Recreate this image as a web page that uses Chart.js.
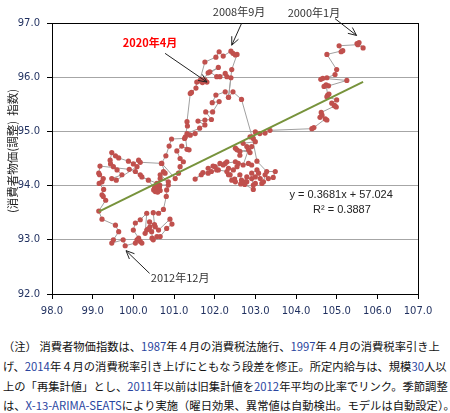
<!DOCTYPE html>
<html>
<head>
<meta charset="utf-8">
<script src="https://cdn.jsdelivr.net/npm/chart.js@4.4.1/dist/chart.umd.min.js"></script>
<style>
html, body { margin: 0; padding: 0; background: #fff; }
#wrap { position: relative; width: 450px; height: 413px; overflow: hidden; }
#chartBox { position: absolute; left: 0; top: 0; width: 450px; height: 320px; }
#note { position: absolute; left: 3px; top: 337px; font-family: "Noto Sans CJK JP"; font-size: 11.3px;
        line-height: 19.8px; color: #111; white-space: nowrap; }
#note .n { color: #2a45a0; }
</style>
</head>
<body>
<div id="wrap">
  <div id="chartBox"><canvas id="cpiWage"></canvas></div>
  <div id="note">
    （注） 消費者物価指数は、<span class="n">1987</span>年４月の消費税法施行、<span class="n">1997</span>年４月の消費税率引き上<br>
    げ、<span class="n">2014</span>年４月の消費税率引き上げにともなう段差を修正。所定内給与は、規模<span class="n">30</span>人以<br>
    上の「再集計値」とし、<span class="n">2011</span>年以前は旧集計値を<span class="n">2012</span>年平均の比率でリンク。季節調整<br>
    は、<span class="n">X-13-ARIMA-SEATS</span>により実施（曜日効果、異常値は自動検出。モデルは自動設定）。
  </div>
</div>
<script>
// --- DATA (2000年1月 -> 2020年4月, monthly) ---
// 所定内給与 指数 (x)
const wage = [
  // 2000-2002
  105.50,105.55,105.65,105.52,105.06,105.11,105.15,104.76,105.00,104.96,104.76,104.61,
  104.66,105.25,104.80,104.69,104.74,104.78,104.81,104.76,105.00,104.88,104.94,104.99,
  104.96,104.62,104.59,104.64,104.76,104.72,104.44,104.39,103.36,103.24,103.11,103.00,
  // 2003-2007
  102.95,102.87,103.00,102.70,102.79,102.91,102.87,102.55,102.62,102.51,102.62,102.83,
  102.70,102.83,102.91,102.58,102.55,102.51,102.26,102.30,102.13,102.21,102.01,101.96,
  101.84,101.92,101.71,101.52,101.67,101.84,102.05,102.09,102.30,102.34,102.46,102.34,
  102.38,102.42,102.51,102.49,102.62,102.66,102.64,102.75,102.79,102.79,102.74,102.95,
  103.00,102.95,102.91,103.00,102.91,103.04,103.08,103.12,103.16,103.20,103.24,103.32,
  103.44,103.49,103.28,103.04,102.92,
  // 2008
  102.66,102.45,102.34,102.42,102.55,102.51,102.45,102.40,102.21,102.11,102.03,
  // 2009-2012
  101.76,101.63,101.56,101.54,101.43,101.40,101.32,101.33,101.26,100.94,100.88,100.80,
  100.69,100.17,100.13,100.00,99.88,99.64,99.56,99.47,99.43,99.44,99.51,99.60,
  99.72,99.47,99.58,100.09,100.05,100.17,99.90,99.18,99.15,99.17,99.26,99.23,
  99.16,99.27,99.23,99.26,99.32,99.15,99.23,99.56,99.64,99.51,99.47,99.75,99.80,
  // 2013-2014
  100.05,100.09,100.13,100.17,100.21,100.00,100.05,100.17,100.33,100.29,100.33,100.41,
  100.49,100.46,100.58,100.66,100.82,100.95,100.90,100.62,100.54,100.45,100.37,100.40,
  100.52,100.49,100.62,100.74,
  // 2015-2016
  100.81,100.82,100.86,100.65,100.59,100.52,100.57,100.62,100.55,100.60,100.64,100.50,
  100.66,100.58,100.62,100.54,100.53,100.58,100.37,100.21,100.58,100.66,100.86,100.66,
  // 2017-2018
  100.74,100.78,100.70,101.03,101.11,101.15,101.23,101.15,101.07,101.19,101.37,101.32,
  101.28,101.40,101.52,101.32,101.63,101.76,101.59,101.76,101.92,101.78,101.95,102.11,
  // 2019-2020/4
  101.94,102.03,102.26,102.34,102.40,102.30,102.26,102.13,102.05,101.88,101.84,102.09,
  101.66,101.76,101.70,101.81
];
// 消費者物価(調整) 指数 (y)
const cpi = [
  // 2000-2002
  96.62,96.64,96.54,96.60,96.58,96.47,96.49,96.42,96.14,96.05,95.99,95.96,
  95.98,95.94,95.84,95.83,95.86,95.67,95.69,95.64,95.58,95.52,95.48,95.45,
  95.47,95.35,95.26,95.30,95.21,95.23,95.07,95.05,95.02,94.97,94.96,94.99,
  // 2003-2007
  94.87,94.90,94.81,94.78,94.72,94.72,94.61,94.66,94.56,94.69,94.63,94.66,
  94.38,94.41,94.38,94.41,94.35,94.44,94.41,94.44,94.41,94.38,94.35,94.36,
  94.32,94.26,94.24,94.12,94.20,94.23,94.29,94.29,94.26,94.32,94.29,94.20,
  94.20,94.10,94.07,94.12,94.20,94.10,94.03,94.07,94.16,94.07,94.02,93.93,
  94.04,94.01,94.13,94.16,94.23,94.29,94.23,94.13,94.04,94.07,94.20,94.13,
  94.15,94.26,94.26,94.45,94.90,
  // 2008
  95.59,95.73,95.63,96.14,96.42,96.41,96.44,96.48,96.39,96.47,96.37,
  // 2009-2012
  96.28,95.93,95.91,95.80,95.72,95.70,95.18,95.10,94.87,94.86,94.73,94.55,
  94.41,94.43,94.47,94.40,94.45,94.51,94.55,94.61,94.47,94.40,94.35,94.29,
  94.20,94.13,94.10,94.35,94.26,94.20,94.30,94.36,94.23,94.20,94.13,94.07,
  94.04,93.93,93.83,93.80,93.73,93.53,93.38,93.27,93.15,93.00,92.94,93.00,92.89,
  // 2013-2014
  92.94,93.00,93.03,92.97,92.94,93.18,93.31,93.37,93.49,93.12,93.18,93.24,
  93.00,93.03,93.06,93.06,93.21,93.29,93.38,93.18,93.24,93.15,93.20,93.33,
  93.28,93.50,93.49,93.56,
  // 2015-2016
  93.80,93.92,94.01,94.01,93.95,93.95,93.90,93.93,93.99,93.88,93.97,93.92,
  93.91,94.00,93.96,93.89,93.97,93.89,94.10,94.16,94.04,94.13,94.07,94.20,
  // 2017-2018
  94.26,94.23,94.41,94.13,94.23,94.35,94.44,94.50,94.64,94.73,94.66,94.67,
  94.90,94.93,94.96,94.96,95.06,95.12,95.19,95.21,95.22,95.36,95.36,95.55,
  // 2019-2020/4
  95.53,95.67,95.73,95.63,95.99,96.01,96.07,96.01,96.01,96.10,96.08,96.18,
  95.96,95.95,95.90,95.91
];
const xTicks = [98, 99, 100, 101, 102, 103, 104, 105, 106, 107];
const yTicks = [92, 93, 94, 95, 96, 97];
// 近似直線 y = a x + b (Excel 表示値)
const trendCoef = [0.3681, 57.024];
const trendLabel = ['y = 0.3681x + 57.024', 'R² = 0.3887'];

// 吹き出し: label, 矢印の先 [x,y], 文字の位置 [x,y], 矢印の始点 [x,y] (all in data units)
const callouts = [
  { text: '2000年1月', tip: [105.49, 96.77], at: [104.44, 97.18], from: [104.96, 97.08] },
  { text: '2008年9月', tip: [102.42, 96.59], at: [102.60, 97.20], from: [102.66, 96.99] },
  { text: '2020年4月', tip: [101.81, 95.91], at: [100.41, 96.64], from: [100.78, 96.44], red: true },
  { text: '2012年12月', tip: [99.82, 92.80], at: [101.15, 92.30], from: [100.40, 92.38] }
];

const points = wage.map((w, i) => ({ x: w, y: cpi[i] }));
const xMin = Math.min(...wage), xMax = Math.max(...wage);
const trendPts = [xMin, xMax].map(v => ({ x: v, y: trendCoef[0] * v + trendCoef[1] }));

function arrow(ctx, x1, y1, x2, y2) {
  const ang = Math.atan2(y2 - y1, x2 - x1), L = 9, A = 0.42;
  ctx.beginPath();
  ctx.moveTo(x1, y1); ctx.lineTo(x2, y2);
  ctx.moveTo(x2 - L * Math.cos(ang - A), y2 - L * Math.sin(ang - A));
  ctx.lineTo(x2, y2);
  ctx.lineTo(x2 - L * Math.cos(ang + A), y2 - L * Math.sin(ang + A));
  ctx.stroke();
}

const extras = {
  id: 'extras',
  afterDraw(chart) {
    const ctx = chart.ctx, a = chart.chartArea;
    const sx = chart.scales.x, sy = chart.scales.y;
    ctx.save();
    // frame
    ctx.strokeStyle = '#000'; ctx.lineWidth = 1;
    ctx.strokeRect(Math.round(a.left) + 0.5, Math.round(a.top) + 0.5,
                   Math.round(a.right - a.left), Math.round(a.bottom - a.top));

    // axis titles
    ctx.fillStyle = '#222';
    ctx.font = '11px "Noto Sans CJK JP"';
    ctx.textBaseline = 'middle';
    ctx.textAlign = 'right';
    ctx.fillText('（所定内給与　指数）', 436, 333);
    ctx.save();
    ctx.translate(13, 151);
    ctx.rotate(-Math.PI / 2);
    ctx.textAlign = 'center';
    ctx.font = '11.5px "Noto Sans CJK JP"';
    ctx.fillText('(消費者物価(調整)  指数)', 0, 0);
    ctx.restore();

    // trend equation
    ctx.textAlign = 'center';
    ctx.fillStyle = '#222';
    ctx.font = '11px "Liberation Sans"';
    ctx.fillText(trendLabel[0], sx.getPixelForValue(105.11), sy.getPixelForValue(93.82));
    ctx.fillText(trendLabel[1], sx.getPixelForValue(105.13), sy.getPixelForValue(93.55));

    // callouts
    ctx.strokeStyle = '#222'; ctx.lineWidth = 1;
    callouts.forEach(c => {
      arrow(ctx, sx.getPixelForValue(c.from[0]), sy.getPixelForValue(c.from[1]),
                 sx.getPixelForValue(c.tip[0]), sy.getPixelForValue(c.tip[1]));
      ctx.fillStyle = c.red ? '#ff0000' : '#333';
      ctx.font = (c.red ? 'bold ' : '') + '11px "Noto Sans CJK JP"';
      ctx.fillText(c.text, sx.getPixelForValue(c.at[0]), sy.getPixelForValue(c.at[1]));
    });
    ctx.restore();
  }
};

const tickFont = { family: '"DejaVu Sans"', size: 10 };

new Chart(document.getElementById('cpiWage').getContext('2d'), {
  type: 'scatter',
  data: {
    datasets: [{
      data: trendPts, showLine: true, borderColor: '#77933C', borderWidth: 2,
      pointRadius: 0, order: 0
    }, {
      data: points, showLine: true, borderColor: '#A0A0A0', borderWidth: 1,
      pointRadius: 2.6, pointHoverRadius: 2.6, pointBackgroundColor: '#C0504D',
      pointBorderWidth: 0, order: 1
    }]
  },
  options: {
    animation: false, responsive: true, maintainAspectRatio: false,
    layout: { padding: { top: 23, right: 32, left: 0, bottom: 0 } },
    plugins: { legend: { display: false }, tooltip: { enabled: false } },
    scales: {
      x: {
        type: 'linear', min: 98, max: 107,
        afterBuildTicks: s => { s.ticks = xTicks.map(v => ({ value: v })); },
        afterFit: s => { s.height = 26; },
        ticks: { font: tickFont, color: '#1F2F5F', padding: 6, callback: v => v.toFixed(1), maxRotation: 0 },
        grid: { drawOnChartArea: false, tickLength: 5, color: '#000' },
        border: { color: '#000', width: 1 }
      },
      y: {
        min: 92, max: 97,
        afterBuildTicks: s => { s.ticks = yTicks.map(v => ({ value: v })); },
        afterFit: s => { s.width = 52; },
        ticks: { font: tickFont, color: '#1F2F5F', padding: 7, callback: v => v.toFixed(1) },
        grid: { color: '#A6A6A6', tickColor: '#000', tickLength: 5 },
        border: { color: '#000', width: 1 }
      }
    }
  },
  plugins: [extras]
});
</script>
</body>
</html>
